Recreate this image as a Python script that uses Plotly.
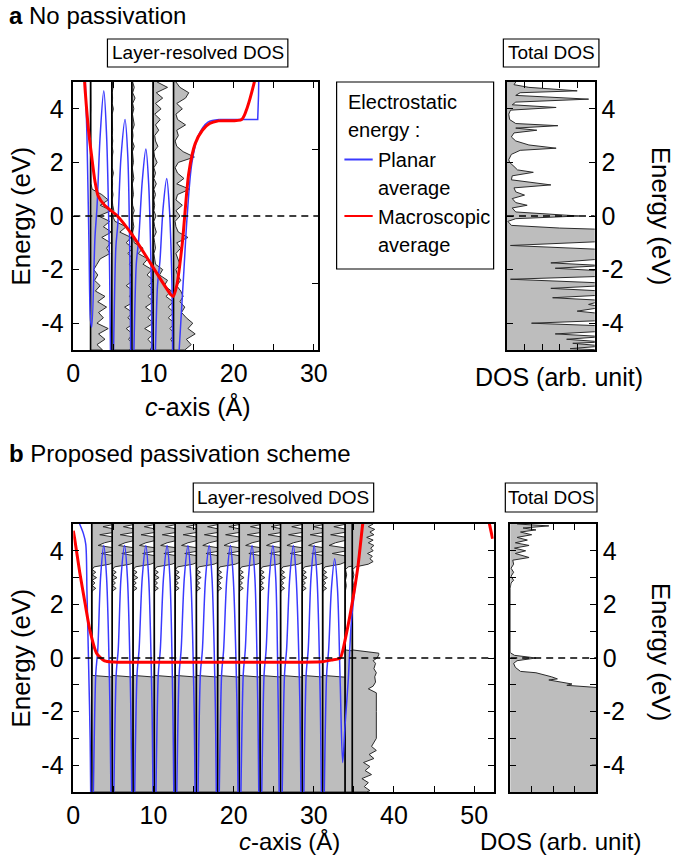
import plotly.graph_objects as go

FONT = "Liberation Sans, Arial, Helvetica, sans-serif"
W, H = 685, 858
GRAY = "#bdbdbd"
DARK = "#2b2b2b"
BLUE = "#3a3aff"
RED = "#ff0000"

# ---------------- data : panel a (no passivation) ----------------
ENERGY_GRID = [5.0, 4.8, 4.6, 4.4, 4.2, 4.0, 3.8, 3.6, 3.4, 3.2, 3.0, 2.8, 2.6, 2.4, 2.2, 2.0,
               1.8, 1.6, 1.4, 1.2, 1.0, 0.8, 0.6, 0.4, 0.2, 0.0, -0.2, -0.4, -0.6, -0.8, -1.0,
               -1.2, -1.4, -1.6, -1.8, -2.0, -2.2, -2.4, -2.6, -2.8, -3.0, -3.2, -3.4, -3.6,
               -3.8, -4.0, -4.2, -4.4, -4.6, -4.8, -5.0]

LAYER_POS_A = [2.15, 4.8, 7.3, 9.95, 12.5]

DOS_A1 = [0.03, 0.05, 0.03, 0.06, 0.03, 0.05, 0.03, 0.04, 0.03, 0.05, 0.03, 0.04, 0.03, 0.05, 0.03, 0.04,
          0.03, 0.05, 0.03, 0.06, 0.2, 1.4, 2.2, 1.2, 2.6, 1.0, 2.4, 1.6, 2.6, 1.4, 2.5,
          2.0, 2.4, 1.2, 0.8, 0.4, 0.9, 0.5, 1.2, 0.6, 1.8, 0.9, 2.0, 1.0,
          1.6, 0.8, 2.2, 1.0, 1.8, 0.8, 1.5]
DOS_A2 = [0.05, 0.15, 0.05, 0.1, 0.04, 0.2, 0.05, 0.08, 0.04, 0.1, 0.05, 0.12, 0.04, 0.15, 0.05, 0.08,
          0.05, 0.2, 0.05, 0.1, 0.05, 0.15, 0.05, 0.12, 0.25, 0.1, 0.4, 1.8, 1.0, 2.4, 1.8,
          2.6, 2.0, 2.7, 2.2, 2.8, 2.3, 2.7, 1.8, 2.7, 2.2, 2.8, 1.6, 2.6,
          2.0, 2.8, 1.8, 2.6, 2.1, 2.7, 2.2]
DOS_A3 = [0.1, 0.3, 0.1, 0.4, 0.1, 0.25, 0.08, 0.15, 0.3, 0.08, 0.15, 0.06, 0.3, 0.08, 0.12, 0.2,
          0.06, 0.12, 0.25, 0.06, 0.1, 0.2, 0.06, 0.1, 0.3, 0.08, 0.15, 0.25, 0.1, 0.2, 0.3,
          1.4, 0.8, 2.0, 1.4, 2.5, 1.9, 2.7, 2.1, 2.8, 2.0, 2.7, 1.7, 2.6,
          2.0, 2.7, 1.6, 2.7, 2.0, 2.6, 2.3]
DOS_A4 = [0.5, 1.8, 0.4, 1.2, 0.3, 1.0, 0.2, 0.9, 0.3, 0.7, 0.2, 0.3, 0.6, 0.1, 0.2, 0.5,
          0.1, 0.3, 0.1, 0.4, 0.1, 0.3, 0.1, 0.2, 0.1, 0.35, 0.1, 0.2, 0.4, 0.1, 0.2,
          0.3, 0.1, 0.2, 0.3, 1.2, 0.8, 1.8, 1.4, 2.3, 1.6, 2.5, 1.9, 2.6,
          1.9, 2.7, 2.1, 2.7, 2.2, 2.6, 2.4]
DOS_A5 = [0.3, 0.8, 1.9, 1.5, 0.4, 1.1, 0.3, 0.5, 1.5, 0.4, 0.6, 0.2, 0.4, 1.2, 2.6, 0.6,
          0.2, 0.5, 1.3, 0.4, 2.0, 0.5, 0.3, 1.1, 0.3, 0.8, 0.2, 0.3, 0.6, 1.8, 0.4,
          0.9, 0.3, 0.6, 0.8, 0.3, 0.5, 0.9, 0.4, 0.9, 1.2, 0.8, 1.4, 1.0,
          1.6, 2.4, 1.8, 2.7, 1.6, 2.2, 1.4]

TOTAL_A_E = [5.0, 4.9, 4.8, 4.67, 4.6, 4.5, 4.36, 4.25, 4.15, 4.05, 3.95, 3.8, 3.6, 3.45, 3.37,
             3.28, 3.2, 3.1, 2.95, 2.8, 2.65, 2.53, 2.45, 2.3, 2.1, 2.0, 1.85, 1.72, 1.63, 1.5,
             1.35, 1.16, 1.05, 0.9, 0.78, 0.65, 0.5, 0.4, 0.3, 0.15, 0.0, -0.1, -0.2, -0.35,
             -0.45, -0.5, -0.95, -1.1, -1.25, -1.6, -1.75, -1.85, -1.95, -2.05, -2.25, -2.36,
             -2.5, -2.6, -2.7, -2.8, -2.95, -3.05, -3.15, -3.3, -3.4, -3.55, -3.65, -3.9, -4.0,
             -4.1, -4.3, -4.4, -4.5, -4.6, -4.7, -4.75, -4.85, -4.95, -5.0]
TOTAL_A_V = [0.10, 0.08, 0.25, 0.80, 0.15, 0.10, 0.93, 0.10, 0.06, 0.56, 0.04, 0.02, 0.03, 0.10, 0.58,
             0.10, 0.34, 0.08, 0.05, 0.10, 0.25, 0.56, 0.15, 0.05, 0.02, 0.03, 0.08, 0.12, 0.30, 0.06,
             0.05, 0.50, 0.08, 0.10, 0.20, 0.06, 0.10, 0.23, 0.06, 0.10, 0.82, 0.10, 0.01, 0.05,
             0.60, 1.10, 1.10, 0.04, 1.10, 1.10, 0.50, 1.10, 0.55, 1.10, 1.10, 0.04,
             1.10, 1.10, 0.50, 1.10, 1.10, 0.52, 1.10, 0.93, 1.10, 0.80, 1.10, 1.10, 0.28,
             1.10, 1.10, 0.55, 1.10, 0.68, 1.10, 0.75, 1.10, 0.72, 1.10]

BLUE_A_X = [1.45, 1.7, 1.95, 2.15, 2.3, 2.7, 2.95, 3.35, 3.8, 4.15, 4.5, 4.8,
            5.3, 5.55, 5.95, 6.45, 6.8, 7.05, 7.3,
            7.85, 8.15, 8.6, 9.05, 9.4, 9.7, 9.95,
            10.5, 10.8, 11.2, 11.65, 12.0, 12.3, 12.55,
            13.0, 13.4, 13.8, 14.2, 14.8, 15.6, 16.8, 18.2]
BLUE_A_Y = [5.5, 3.0, -1.0, -3.9, -4.15, -0.8, 0.3, 3.0, 4.67, 3.0, -1.5, -8.0,
            -1.2, -0.3, 2.2, 3.6, 2.2, -1.5, -8.0,
            -1.8, -0.9, 1.3, 2.5, 1.2, -2.0, -8.0,
            -2.6, -1.7, 0.3, 1.4, 0.2, -2.5, -8.0,
            -6.0, -4.0, -2.0, 0.0, 2.0, 3.0, 3.5, 3.6]
BLUE_A_TAIL_X = [18.2, 23.0, 23.1, 23.15]
BLUE_A_TAIL_Y = [3.6, 3.6, 4.5, 5.5]

RED_A_X = [1.35, 1.5, 1.9, 2.3, 2.7, 3.1, 3.9, 5.5, 7.5, 9.6, 12.2, 12.45, 12.9, 13.6,
           14.4, 15.2, 16.1, 17.0, 18.1, 21.0, 21.7, 22.5, 22.8]
RED_A_Y = [5.3, 4.6, 3.2, 2.2, 1.3, 0.75, 0.4, 0.0, -0.77, -1.75, -2.95, -3.0, -2.6, -1.0,
           1.6, 2.7, 3.2, 3.45, 3.55, 3.6, 4.05, 4.9, 5.3]

# ---------------- data : panel b (proposed passivation) ----------------
LAYER_POS_B = [2.3, 4.85, 7.45, 10.1, 12.7, 15.35, 18.0, 20.7, 23.3, 25.85, 28.55, 31.1, 33.9, 34.8]

BULK_E = [5.0, 4.9, 4.8, 4.7, 4.6, 4.5, 4.4, 4.3, 4.2, 4.1, 4.0, 3.9, 3.8, 3.7, 3.6, 3.5, 3.4,
          3.3, 3.2, 3.1, 3.0, 2.9, 2.8, 2.7, 2.6, 2.5, 2.4, 2.0, 1.0, 0.0, -0.5, -0.65, -0.72,
          -1.0, -2.0, -3.0, -4.0, -5.0]
BULK_W = [3.0, 1.4, 3.0, 3.0, 1.0, 3.0, 3.0, 1.6, 0.8, 3.0, 3.0, 1.2, 3.0, 3.0, 3.0, 2.2, 0.3,
          0.05, 0.5, 0.05, 0.6, 0.05, 0.4, 0.05, 0.5, 0.05, 0.02, 0.02, 0.02, 0.02, 0.02, 0.05, 3.0,
          3.0, 3.0, 3.0, 3.0, 3.0]

IFACE_E = [5.0, 4.9, 4.8, 4.7, 4.6, 4.5, 4.4, 4.3, 4.2, 4.1, 4.0, 3.9, 3.8, 3.7, 3.6, 3.5, 3.4,
           3.3, 3.1, 2.9, 2.7, 2.5, 2.0, 1.0, 0.3, 0.18, 0.12, 0.0, -0.1, -0.2, -0.4, -0.55,
           -0.7, -0.9, -1.05, -1.15, -1.3, -2.0, -3.0, -3.3, -3.45, -3.6, -3.75, -3.9, -4.05,
           -4.2, -4.35, -4.5, -4.65, -4.8, -4.95, -5.0]
IFACE_W = [2.6, 2.0, 2.8, 2.2, 2.7, 1.8, 2.6, 2.0, 2.7, 2.3, 2.6, 1.9, 2.5, 2.2, 2.6, 2.0, 0.4,
           0.05, 0.2, 0.05, 0.15, 0.04, 0.03, 0.03, 0.05, 3.3, 3.3, 3.1, 2.6, 2.9, 2.7, 3.0,
           2.8, 2.9, 2.6, 2.0, 3.0, 3.0, 3.0, 2.4, 3.0, 2.1, 2.7, 1.4, 2.2,
           1.6, 2.4, 1.2, 2.0, 1.5, 2.2, 1.8]

TOTAL_B_E = [5.0, 4.93, 4.85, 4.78, 4.7, 4.6, 4.5, 4.4, 4.3, 4.2, 4.1, 4.0, 3.9, 3.75, 3.65,
             3.5, 3.35, 3.2, 3.05, 2.9, 2.8, 2.6, 0.2, 0.1, 0.0, -0.1, -0.2, -0.35, -0.5, -0.55,
             -0.7, -0.78, -0.82, -0.9, -0.97, -1.02, -1.08, -1.12, -3.95, -4.0, -4.05, -5.0]
TOTAL_B_V = [0.08, 0.45, 0.15, 0.30, 0.12, 0.25, 0.08, 0.20, 0.06, 0.22, 0.05, 0.18, 0.06, 0.22, 0.03,
             0.04, 0.01, 0.04, 0.01, 0.04, 0.01, 0.0, 0.0, 0.05, 0.30, 0.08, 0.04, 0.06, 0.12, 0.30,
             0.48, 0.55, 0.45, 0.62, 0.72, 0.66, 0.85, 1.10, 1.10, 0.95, 1.10, 1.10]

BLUE_B_X = [0.5, 1.25, 1.55, 1.7, 1.86, 2.1, 2.3,
            2.8, 3.05, 3.4, 3.8, 4.15, 4.55, 4.85,
            5.35, 5.6, 5.95, 6.4, 6.75, 7.15, 7.45,
            7.95, 8.2, 8.6, 9.05, 9.4, 9.8, 10.1,
            10.6, 10.85, 11.25, 11.7, 12.05, 12.4, 12.7,
            13.2, 13.45, 13.85, 14.3, 14.65, 15.05, 15.35,
            15.85, 16.1, 16.5, 16.95, 17.3, 17.7, 18.0,
            18.5, 18.75, 19.15, 19.6, 19.95, 20.4, 20.7,
            21.2, 21.45, 21.85, 22.3, 22.65, 23.0, 23.3,
            23.8, 24.05, 24.45, 24.9, 25.25, 25.55, 25.85,
            26.35, 26.6, 27.0, 27.45, 27.8, 28.25, 28.55,
            29.05, 29.3, 29.65, 30.05, 30.4, 30.8, 31.1,
            31.6, 31.85, 32.2, 32.6, 32.95, 33.3, 33.6,
            33.9, 34.3, 34.7, 35.5, 36.1, 36.3]
BLUE_B_Y = [5.2, 4.65, 4.25, 2.5, 0.4, -3.0, -8.0,
            -0.6, 0.3, 3.0, 4.2, 3.0, -1.5, -8.0,
            -0.6, 0.3, 3.0, 4.2, 3.0, -1.5, -8.0,
            -0.6, 0.3, 3.0, 4.2, 3.0, -1.5, -8.0,
            -0.6, 0.3, 3.0, 4.2, 3.0, -1.5, -8.0,
            -0.6, 0.3, 3.0, 4.2, 3.0, -1.5, -8.0,
            -0.6, 0.3, 3.0, 4.2, 3.0, -1.5, -8.0,
            -0.6, 0.3, 3.0, 4.2, 3.0, -1.5, -8.0,
            -0.6, 0.3, 3.0, 4.2, 3.0, -1.5, -8.0,
            -0.6, 0.3, 3.0, 4.2, 3.0, -1.5, -8.0,
            -0.6, 0.3, 3.0, 4.2, 3.0, -1.5, -8.0,
            -0.6, 0.3, 3.0, 4.2, 3.0, -1.5, -8.0,
            -0.6, 0.3, 2.6, 3.7, 2.6, -1.0, -3.9,
            -2.5, -0.8, 1.4, 3.5, 5.0, 5.6]

RED_B_X = [0.0, 0.16, 0.8, 1.46, 2.07, 2.9, 3.9, 5.0, 15.0, 25.0, 31.0, 32.2, 33.3, 33.9,
           34.7, 35.5, 36.1, 36.3]
RED_B_Y = [4.75, 4.47, 3.2, 2.05, 1.04, 0.18, -0.11, -0.15, -0.16, -0.16, -0.14, -0.08, 0.0, 0.67,
           1.9, 3.4, 5.0, 5.4]
RED_B_WRAP_X = [51.7, 52.3]
RED_B_WRAP_Y = [5.3, 4.45]

# ---------------- figure ----------------
fig = go.Figure()


def layer_trace(base, energies, widths, xa, ya):
    xs = [base + w for w in widths] + [base, base]
    ys = list(energies) + [energies[-1], energies[0]]
    return go.Scatter(x=xs, y=ys, mode="lines", fill="toself", fillcolor=GRAY,
                      line=dict(color=DARK, width=1), xaxis=xa, yaxis=ya,
                      showlegend=False, hoverinfo="skip")


def vline_trace(base, xa, ya):
    return go.Scatter(x=[base, base], y=[-5, 5], mode="lines",
                      line=dict(color="black", width=1.6), xaxis=xa, yaxis=ya,
                      showlegend=False, hoverinfo="skip")


# panel a layers
for pos, dos in zip(LAYER_POS_A, [DOS_A1, DOS_A2, DOS_A3, DOS_A4, DOS_A5]):
    fig.add_trace(layer_trace(pos, ENERGY_GRID, dos, "x", "y"))
for pos in LAYER_POS_A:
    fig.add_trace(vline_trace(pos, "x", "y"))
fig.add_trace(go.Scatter(x=BLUE_A_X, y=BLUE_A_Y, mode="lines",
                         line=dict(color=BLUE, width=1.5, shape="spline", smoothing=0.9),
                         xaxis="x", yaxis="y", showlegend=False))
fig.add_trace(go.Scatter(x=BLUE_A_TAIL_X, y=BLUE_A_TAIL_Y, mode="lines",
                         line=dict(color=BLUE, width=1.5), xaxis="x", yaxis="y", showlegend=False))
fig.add_trace(go.Scatter(x=RED_A_X, y=RED_A_Y, mode="lines",
                         line=dict(color=RED, width=3, shape="spline", smoothing=0.7),
                         xaxis="x", yaxis="y", showlegend=False))
# dummy for right-side ticks of panel a
fig.add_trace(go.Scatter(x=[None], y=[None], mode="lines", xaxis="x", yaxis="y5",
                         showlegend=False, hoverinfo="skip"))

# panel a total DOS
fig.add_trace(go.Scatter(x=TOTAL_A_V, y=TOTAL_A_E, mode="lines", fill="tozerox", fillcolor=GRAY,
                         line=dict(color=DARK, width=1), xaxis="x2", yaxis="y2", showlegend=False))

# panel b layers
for i, pos in enumerate(LAYER_POS_B):
    if i < len(LAYER_POS_B) - 2:
        fig.add_trace(layer_trace(pos, BULK_E, BULK_W, "x3", "y3"))
    else:
        fig.add_trace(layer_trace(pos, IFACE_E, IFACE_W, "x3", "y3"))
for pos in LAYER_POS_B:
    fig.add_trace(vline_trace(pos, "x3", "y3"))
fig.add_trace(go.Scatter(x=BLUE_B_X, y=BLUE_B_Y, mode="lines",
                         line=dict(color=BLUE, width=1.5, shape="spline", smoothing=0.9),
                         xaxis="x3", yaxis="y3", showlegend=False))
fig.add_trace(go.Scatter(x=RED_B_X, y=RED_B_Y, mode="lines",
                         line=dict(color=RED, width=3, shape="spline", smoothing=0.6),
                         xaxis="x3", yaxis="y3", showlegend=False))
fig.add_trace(go.Scatter(x=RED_B_WRAP_X, y=RED_B_WRAP_Y, mode="lines",
                         line=dict(color=RED, width=3), xaxis="x3", yaxis="y3", showlegend=False))

# panel b total DOS
fig.add_trace(go.Scatter(x=TOTAL_B_V, y=TOTAL_B_E, mode="lines", fill="tozerox", fillcolor=GRAY,
                         line=dict(color=DARK, width=1), xaxis="x4", yaxis="y4", showlegend=False))


def px(x):
    return x / W


def py(y):
    return 1 - y / H


TICKFONT = dict(family=FONT, size=25, color="black")
common = dict(showgrid=False, zeroline=False, showline=True, linecolor="black", linewidth=1.5,
              ticks="inside", ticklen=6, tickwidth=1.2, tickcolor="black", tickfont=TICKFONT)

E_TICKS_A = [-4, -2, 0, 2, 4]
E_TEXT_A = ["-4", "-2", "0", "2", "4"]
E_TICKS_B = [-4, -3, -2, -1, 0, 1, 2, 3, 4]
E_TEXT_B = ["-4", "", "-2", "", "0", "", "2", "", "4"]

fig.update_layout(
    width=W, height=H, margin=dict(l=0, r=0, t=0, b=0),
    paper_bgcolor="white", plot_bgcolor="white", showlegend=False,
    font=dict(family=FONT, color="black"),
    xaxis=dict(domain=[px(68), px(319)], range=[0, 30.53], anchor="y",
               tickvals=[0, 5, 10, 15, 20, 25, 30], ticktext=["0", "", "10", "", "20", "", "30"],
               mirror="ticks", **common),
    yaxis=dict(domain=[py(350), py(82)], range=[-5, 5], anchor="x",
               tickvals=E_TICKS_A, ticktext=E_TEXT_A, mirror=True, ticklabelstandoff=3, **common),
    yaxis5=dict(overlaying="y", side="right", range=[-5, 5], anchor="x", showgrid=False,
                zeroline=False, showline=False, ticks="inside", ticklen=6, tickwidth=1.2,
                tickcolor="black", tickvals=[-2.5, 2.5], showticklabels=False),
    xaxis2=dict(domain=[px(512.7), px(602.7)], range=[0, 1], anchor="y2",
                tickvals=[0.2, 0.4, 0.6, 0.8], showticklabels=False, mirror="ticks", **common),
    yaxis2=dict(domain=[py(350), py(82)], range=[-5, 5], anchor="x2", side="right",
                tickvals=E_TICKS_A, ticktext=E_TEXT_A, mirror="ticks", **common),
    xaxis3=dict(domain=[px(68), px(499)], range=[0, 52.43], anchor="y3",
                tickvals=[0, 5, 10, 15, 20, 25, 30, 35, 40, 45, 50],
                ticktext=["0", "", "10", "", "20", "", "30", "", "40", "", "50"],
                mirror="ticks", **common),
    yaxis3=dict(domain=[py(792), py(524)], range=[-5, 5], anchor="x3",
                tickvals=E_TICKS_B, ticktext=E_TEXT_B, mirror="ticks", ticklabelstandoff=3, **common),
    xaxis4=dict(domain=[px(516), px(604)], range=[0, 1], anchor="y4",
                tickvals=[0.25, 0.5, 0.75], showticklabels=False, mirror="ticks", **common),
    yaxis4=dict(domain=[py(792), py(524)], range=[-5, 5], anchor="x4", side="right",
                tickvals=E_TICKS_B, ticktext=E_TEXT_B, mirror="ticks", **common),
)

shapes = []
# dashed Fermi level lines
for xr, yr, xmax in [("x", "y", 30.53), ("x2", "y2", 1), ("x3", "y3", 52.43), ("x4", "y4", 1)]:
    shapes.append(dict(type="line", xref=xr, yref=yr, x0=0, x1=xmax, y0=0, y1=0, layer="above",
                       line=dict(color="black", width=1.3, dash="7px,5px")))


def box(x0, y0, x1, y1):
    return dict(type="rect", xref="paper", yref="paper", x0=px(x0), x1=px(x1), y0=py(y1), y1=py(y0),
                line=dict(color="black", width=1.2), fillcolor="rgba(0,0,0,0)")


shapes += [box(103, 39, 288, 67), box(509, 39, 607, 67), box(191, 483, 376, 512),
           box(511, 483, 605, 512), box(338, 82, 499, 269)]
# legend sample lines
shapes.append(dict(type="line", xref="paper", yref="paper", x0=px(346), x1=px(375), y0=py(159.5),
                   y1=py(159.5), line=dict(color=BLUE, width=2)))
shapes.append(dict(type="line", xref="paper", yref="paper", x0=px(346), x1=px(375), y0=py(216),
                   y1=py(216), line=dict(color=RED, width=2)))
fig.update_layout(shapes=shapes)


def ann(text, x, y, size, xanchor="center", angle=0, yanchor="middle"):
    return dict(text=text, x=px(x), y=py(y), xref="paper", yref="paper", showarrow=False,
                xanchor=xanchor, yanchor=yanchor, textangle=angle,
                font=dict(family=FONT, size=size, color="black"))


annotations = [
    ann("<b>a</b> No passivation", 0, 0, 24, xanchor="left", yanchor="top"),
    ann("<b>b</b> Proposed passivation scheme", 0, 438, 24, xanchor="left", yanchor="top"),
    ann("Layer-resolved DOS", 195.5, 53, 19),
    ann("Total DOS", 558, 53, 19),
    ann("Layer-resolved DOS", 283.5, 497.5, 19),
    ann("Total DOS", 558, 497.5, 19),
    ann("Electrostatic", 348, 102, 20, xanchor="left"),
    ann("energy :", 348, 130, 20, xanchor="left"),
    ann("Planar", 378, 160, 20, xanchor="left"),
    ann("average", 378, 188, 20, xanchor="left"),
    ann("Macroscopic", 378, 216.5, 20, xanchor="left"),
    ann("average", 378, 245, 20, xanchor="left"),
    ann("Energy (eV)", 14, 216, 26, angle=-90),
    ann("Energy (eV)", 14, 658, 26, angle=-90),
    ann("Energy (eV)", 671, 216, 26, angle=90),
    ann("Energy (eV)", 671, 652, 26, angle=90),
    ann("<i>c</i>-axis (Å)", 196, 406, 25),
    ann("DOS (arb. unit)", 566, 377, 25),
    ann("<i>c</i>-axis (Å)", 290, 841, 24),
    ann("DOS (arb. unit)", 568, 841, 24),
]
fig.update_layout(annotations=annotations)

fig.write_html("out.html", config={"displayModeBar": False},
               post_script="document.body.style.margin='0px';")
